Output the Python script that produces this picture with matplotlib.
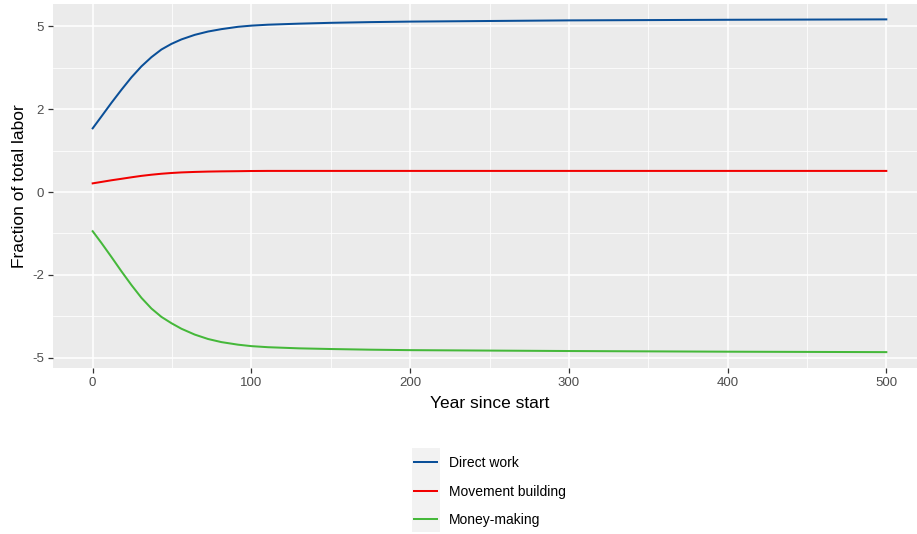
import numpy as np
import matplotlib.pyplot as plt
from matplotlib.patches import Rectangle

plt.rcParams['font.family'] = ['Liberation Sans', 'DejaVu Sans']

# values (y in axis label units)
years = [0, 5.5, 11.8, 18.1, 24.4, 30.7, 37, 43.3, 49.6, 55.9, 64.3, 72.7, 81.1, 91.6,
         100, 110.5, 130, 150, 175, 200, 300, 400, 500]
direct_work = [1.49, 1.80, 2.18, 2.57, 2.97, 3.35, 3.69, 3.99, 4.22, 4.41, 4.61, 4.76,
               4.87, 4.98, 5.035, 5.08, 5.13, 5.17, 5.205, 5.23, 5.29, 5.32, 5.34]
movement = [0.194, 0.226, 0.263, 0.296, 0.330, 0.362, 0.388, 0.410, 0.427, 0.440, 0.451,
            0.459, 0.464, 0.468, 0.472, 0.474, 0.474, 0.474, 0.474, 0.474, 0.474, 0.474, 0.474]
money = [-0.89, -1.17, -1.52, -1.90, -2.29, -2.68, -3.03, -3.32, -3.55, -3.76, -3.99, -4.17,
         -4.30, -4.41, -4.473, -4.52, -4.57, -4.60, -4.63, -4.65, -4.69, -4.72, -4.74]

series_names = ["Direct work", "Movement building", "Money-making"]
series_colors = ["#0a4f98", "#f20000", "#45b83a"]
y_ticks = [-5, -2, 0, 2, 5]
x_ticks = [0, 100, 200, 300, 400, 500]


# squeezed y axis: ticks -5,-2,0,2,5 sit evenly apart
def fwd(v):
    return np.arcsinh(np.asarray(v) * 3 / 8) / np.log(2)


def inv(t):
    t = np.asarray(t)
    return 4 / 3 * (2.0 ** t - 2.0 ** -t)


W, H = 917, 534
fig = plt.figure(figsize=(W / 100, H / 100), dpi=100)
ax = fig.add_axes([53 / W, 1 - 368 / H, (926 - 53) / W, 364 / H])
ax.set_yscale('function', functions=(fwd, inv))

ax.set_facecolor('#ebebeb')
for s in ax.spines.values():
    s.set_visible(False)

for ys, c, name in zip([direct_work, movement, money], series_colors, series_names):
    ax.plot(years, ys, color=c, lw=1.45, label=name, zorder=3)

ax.set_xlim(-25, 525)
ax.set_ylim(inv(-2.124), inv(2.27))
ax.set_xticks(x_ticks)
ax.set_xticks([50, 150, 250, 350, 450], minor=True)
ax.set_yticks(y_ticks)
ax.set_yticklabels([str(v) for v in y_ticks])
ax.set_yticks(inv(np.array([-1.5, -0.5, 0.5, 1.5])), minor=True)
ax.grid(which='major', color='white', lw=1.1, zorder=0)
ax.grid(which='minor', color='white', lw=0.55, zorder=0)
ax.set_axisbelow(True)
ax.tick_params(which='major', length=3.5, width=0.9, color='#333333', labelcolor='#4d4d4d',
               labelsize=9.5, pad=3)
ax.tick_params(which='minor', length=0)

ax.set_xlabel("Year since start", fontsize=12.5, labelpad=5)
ax.set_ylabel("Fraction of total labor", fontsize=12.5, labelpad=4)

# legend below the panel, grey key background like ggplot
fig.add_artist(Rectangle((412 / W, 1 - 532 / H), 28 / W, 84 / H, transform=fig.transFigure,
                         facecolor='#f2f2f2', edgecolor='none', zorder=0))
handles, labels = ax.get_legend_handles_labels()
fig.legend(handles, labels, loc='upper left', bbox_to_anchor=(414 / W, 1 - 456 / H),
           frameon=False, fontsize=10, borderpad=0, borderaxespad=0, handlelength=1.65,
           handletextpad=0.85, labelspacing=1.05)

fig.savefig('out.png', dpi=100)
